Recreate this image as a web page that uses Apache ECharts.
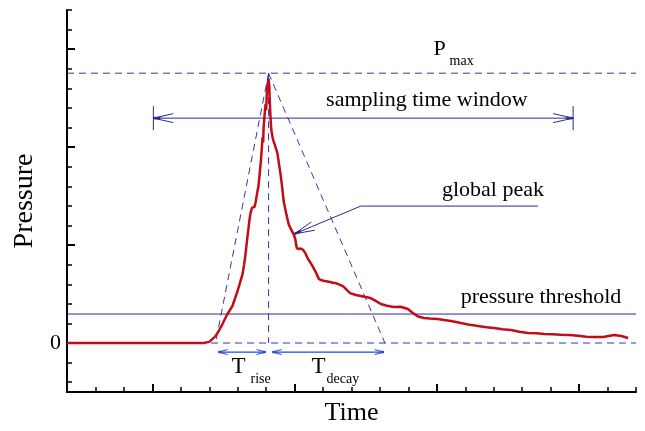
<!DOCTYPE html>
<html>
<head>
<meta charset="utf-8">
<script src="https://cdn.jsdelivr.net/npm/echarts@6/dist/echarts.min.js"></script>
<style>html,body{margin:0;padding:0;background:#fff}#chart{width:645px;height:431px}</style>
</head>
<body>
<div id="chart"></div>
<script>
// ---- data (time in major-tick units, pressure in major-tick units) ----
const timeValues = [-0.6, 0.30, 0.36, 0.40, 0.444, 0.47, 0.493, 0.51, 0.528, 0.545, 0.563, 0.58, 0.599, 0.615, 0.634, 0.645, 0.655, 0.665, 0.676, 0.683, 0.690, 0.70, 0.71, 0.718, 0.725, 0.732, 0.739, 0.745, 0.75, 0.761, 0.768, 0.775, 0.779, 0.782, 0.789, 0.796, 0.80, 0.805, 0.81, 0.817, 0.822, 0.826, 0.831, 0.835, 0.838, 0.845, 0.852, 0.86, 0.868, 0.875, 0.88, 0.89, 0.901, 0.912, 0.923, 0.94, 0.958, 0.975, 0.993, 1.005, 1.015, 1.03, 1.045, 1.06, 1.075, 1.09, 1.10, 1.12, 1.134, 1.15, 1.17, 1.19, 1.21, 1.24, 1.27, 1.29, 1.34, 1.39, 1.43, 1.465, 1.50, 1.535, 1.57, 1.606, 1.65, 1.697, 1.746, 1.796, 1.838, 1.87, 1.908, 1.95, 2.007, 2.05, 2.099, 2.169, 2.22, 2.289, 2.35, 2.401, 2.46, 2.521, 2.58, 2.641, 2.70, 2.754, 2.81, 2.873, 2.93, 2.993, 3.05, 3.106, 3.17, 3.246, 3.296, 3.345, 3.394];
const pressureValues = [0, 0, 0, 0.012, 0.071, 0.13, 0.194, 0.245, 0.296, 0.335, 0.378, 0.45, 0.531, 0.61, 0.704, 0.80, 0.908, 1.04, 1.173, 1.26, 1.327, 1.38, 1.40, 1.39, 1.429, 1.49, 1.551, 1.59, 1.66, 1.827, 1.96, 2.10, 2.05, 2.194, 2.33, 2.439, 2.38, 2.55, 2.643, 2.70, 2.62, 2.45, 2.30, 2.20, 2.16, 2.10, 2.061, 2.03, 1.99, 1.96, 1.929, 1.83, 1.724, 1.60, 1.449, 1.33, 1.214, 1.16, 1.112, 1.06, 0.97, 0.96, 0.965, 0.95, 0.92, 0.87, 0.88, 0.80, 0.765, 0.72, 0.655, 0.64, 0.633, 0.625, 0.615, 0.612, 0.58, 0.51, 0.49, 0.48, 0.47, 0.459, 0.43, 0.398, 0.38, 0.367, 0.37, 0.347, 0.30, 0.27, 0.255, 0.25, 0.245, 0.235, 0.224, 0.204, 0.19, 0.173, 0.16, 0.153, 0.14, 0.133, 0.115, 0.102, 0.10, 0.092, 0.09, 0.085, 0.082, 0.075, 0.065, 0.062, 0.061, 0.082, 0.071, 0.051];

// annotation values (data units)
const pmaxLevel = 2.755;
const thresholdLevel = 0.296;
const peakTime = 0.817;
const riseStart = 0.444;
const decayEnd = 1.635;
const windowRange = [0.007, 2.958];
const windowLevel = 2.296;
const globalPeakLeader = [[1.0, 1.115], [1.465, 1.398], [2.711, 1.398]];
const durationArrowLevel = -0.092;
const riseArrow = [0.465, 0.796];
const decayArrow = [0.845, 1.627];

// axis ticks and labels
const xRange = [-0.6, 3.4];
const yRange = [-0.5, 3.4];
const xMajorTicks = [0, 1, 2, 3];
const yMajorTicks = [0, 1, 2, 3];
const yTickLabels = [0];
const xMinorTicks = [];
for (let i = 0; i <= 20; i++) xMinorTicks.push(+(-0.6 + i * 0.2).toFixed(2));
const yMinorTicks = [];
for (let i = -2; i <= 17; i++) yMinorTicks.push(+(i * 0.2).toFixed(2));

const labels = {
  window: 'sampling time window',
  peak: 'global peak',
  threshold: 'pressure threshold'
};

const serif = '"Liberation Serif", "Times New Roman", serif';
const solidBlue = '#2a2a98';
const dashBlue = '#3434b4';
const arrowBlue = '#2448d8';
const curveRed = '#c20c18';

const chart = echarts.init(document.getElementById('chart'), null, {renderer: 'canvas'});

function renderAnnotations(params, api) {
  const c = (x, y) => api.coord([x, y]);
  const els = [];
  const line = (p1, p2, color, dash, w) => els.push({
    type: 'line',
    shape: {x1: p1[0], y1: p1[1], x2: p2[0], y2: p2[1]},
    style: {stroke: color, lineWidth: w || 1, lineDash: dash || null}
  });
  const head = (tip, from, len, half, color) => {
    const dx = tip[0] - from[0], dy = tip[1] - from[1];
    const L = Math.hypot(dx, dy);
    const ux = dx / L, uy = dy / L;
    const bx = tip[0] - ux * len, by = tip[1] - uy * len;
    line(tip, [bx - uy * half, by + ux * half], color, null, 1);
    line(tip, [bx + uy * half, by - ux * half], color, null, 1);
    line(tip, [tip[0] - ux * len * 0.35, tip[1] - uy * len * 0.35], color, null, 2.5);
  };
  const dash = [7, 5];
  // P max level
  line(c(xRange[0], pmaxLevel), c(xRange[1], pmaxLevel), dashBlue, dash);
  // zero level
  line(c(xRange[0], 0), c(xRange[1], 0), dashBlue, dash);
  // threshold
  line(c(xRange[0], thresholdLevel), c(xRange[1], thresholdLevel), solidBlue, null, 1);
  // triangle
  line(c(peakTime, pmaxLevel), c(riseStart, 0), dashBlue, dash);
  line(c(peakTime, pmaxLevel), c(decayEnd, 0), dashBlue, dash);
  line(c(peakTime, pmaxLevel), c(peakTime, 0), dashBlue, dash);
  // sampling window
  const wl = c(windowRange[0], windowLevel), wr = c(windowRange[1], windowLevel);
  line(wl, wr, solidBlue, null, 1);
  line([wl[0], wl[1] - 12], [wl[0], wl[1] + 12], solidBlue, null, 1);
  line([wr[0], wr[1] - 12], [wr[0], wr[1] + 12], solidBlue, null, 1);
  head(wl, wr, 20, 4.5, solidBlue);
  head(wr, wl, 20, 4.5, solidBlue);
  // global peak leader
  const g0 = c(...globalPeakLeader[0]), g1 = c(...globalPeakLeader[1]), g2 = c(...globalPeakLeader[2]);
  line(g0, g1, solidBlue, null, 1);
  line(g1, g2, solidBlue, null, 1);
  head(g0, g1, 20, 4.5, solidBlue);
  // T rise / T decay arrows
  const r0 = c(riseArrow[0], durationArrowLevel), r1 = c(riseArrow[1], durationArrowLevel);
  const d0 = c(decayArrow[0], durationArrowLevel), d1 = c(decayArrow[1], durationArrowLevel);
  line(r0, r1, arrowBlue, null, 1.2);
  line(d0, d1, arrowBlue, null, 1.2);
  head(r0, r1, 9, 2.5, arrowBlue);
  head(r1, r0, 9, 2.5, arrowBlue);
  head(d0, d1, 9, 2.5, arrowBlue);
  head(d1, d0, 9, 2.5, arrowBlue);
  // texts
  const text = (p, s, size, align, va) => els.push({
    type: 'text', x: p[0], y: p[1],
    style: {text: s, fill: '#000', font: size + 'px ' + serif, align: align || 'center', verticalAlign: va || 'middle'}
  });
  const pm = c(peakTime, pmaxLevel);
  const wt = c(1.93, windowLevel);
  text([wt[0], wt[1] - 7], labels.window, 22, 'center', 'bottom');
  text([g2[0] - 45, g2[1] - 5], labels.peak, 22, 'center', 'bottom');
  const th = c(2.732, thresholdLevel);
  text([th[0], th[1] - 6], labels.threshold, 22, 'center', 'bottom');
  // P max
  text([pm[0] + 165, pm[1] - 13], 'P', 22, 'left', 'bottom');
  text([pm[0] + 181, pm[1] - 5], 'max', 14, 'left', 'bottom');
  // T rise / T decay
  text([r0[0] + 13, r0[1] + 26], 'T', 23, 'left', 'bottom');
  text([r0[0] + 32, r0[1] + 34], 'rise', 14, 'left', 'bottom');
  text([d0[0] + 39, d0[1] + 26], 'T', 23, 'left', 'bottom');
  text([d0[0] + 54, d0[1] + 34], 'decay', 14, 'left', 'bottom');
  return {type: 'group', children: els};
}

const curveData = timeValues.map((t, i) => [t, pressureValues[i]]);

const option = {
  backgroundColor: '#ffffff',
  animation: false,
  grid: {left: 67, right: 9, top: 10, bottom: 39, containLabel: false},
  xAxis: [{
    type: 'value', min: xRange[0], max: xRange[1], position: 'bottom',
    name: 'Time', nameLocation: 'middle', nameGap: 8,
    nameTextStyle: {fontFamily: serif, fontSize: 26, color: '#000', verticalAlign: 'top'},
    axisLine: {show: true, onZero: false, lineStyle: {color: '#000', width: 2}},
    axisTick: {show: true, inside: true, length: 8, customValues: xMajorTicks, lineStyle: {color: '#000', width: 2}},
    axisLabel: {show: false},
    splitLine: {show: false}
  }, {
    type: 'value', min: xRange[0], max: xRange[1], position: 'bottom',
    axisLine: {show: false, onZero: false},
    axisTick: {show: true, inside: true, length: 5, customValues: xMinorTicks, lineStyle: {color: '#000', width: 1.5}},
    axisLabel: {show: false},
    splitLine: {show: false}
  }],
  yAxis: [{
    type: 'value', min: yRange[0], max: yRange[1], position: 'left',
    name: 'Pressure', nameLocation: 'middle', nameGap: 22,
    nameTextStyle: {fontFamily: serif, fontSize: 28, color: '#000'},
    axisLine: {show: true, onZero: false, lineStyle: {color: '#000', width: 2}},
    axisTick: {show: true, inside: true, length: 8, customValues: yMajorTicks, lineStyle: {color: '#000', width: 2}},
    axisLabel: {show: true, customValues: yTickLabels, formatter: v => String(v), fontFamily: serif, fontSize: 22, color: '#000', margin: 6},
    splitLine: {show: false}
  }, {
    type: 'value', min: yRange[0], max: yRange[1], position: 'left',
    axisLine: {show: false, onZero: false},
    axisTick: {show: true, inside: true, length: 5, customValues: yMinorTicks, lineStyle: {color: '#000', width: 1.5}},
    axisLabel: {show: false},
    splitLine: {show: false}
  }],
  series: [{
    type: 'custom', xAxisIndex: 0, yAxisIndex: 0,
    renderItem: renderAnnotations, data: [[0, 0]], silent: true, z: 1, clip: false
  }, {
    type: 'line', xAxisIndex: 0, yAxisIndex: 0, data: curveData,
    showSymbol: false, symbol: 'none', smooth: false,
    lineStyle: {color: curveRed, width: 2.5}, z: 3
  }]
};
chart.setOption(option);
</script>
</body>
</html>
